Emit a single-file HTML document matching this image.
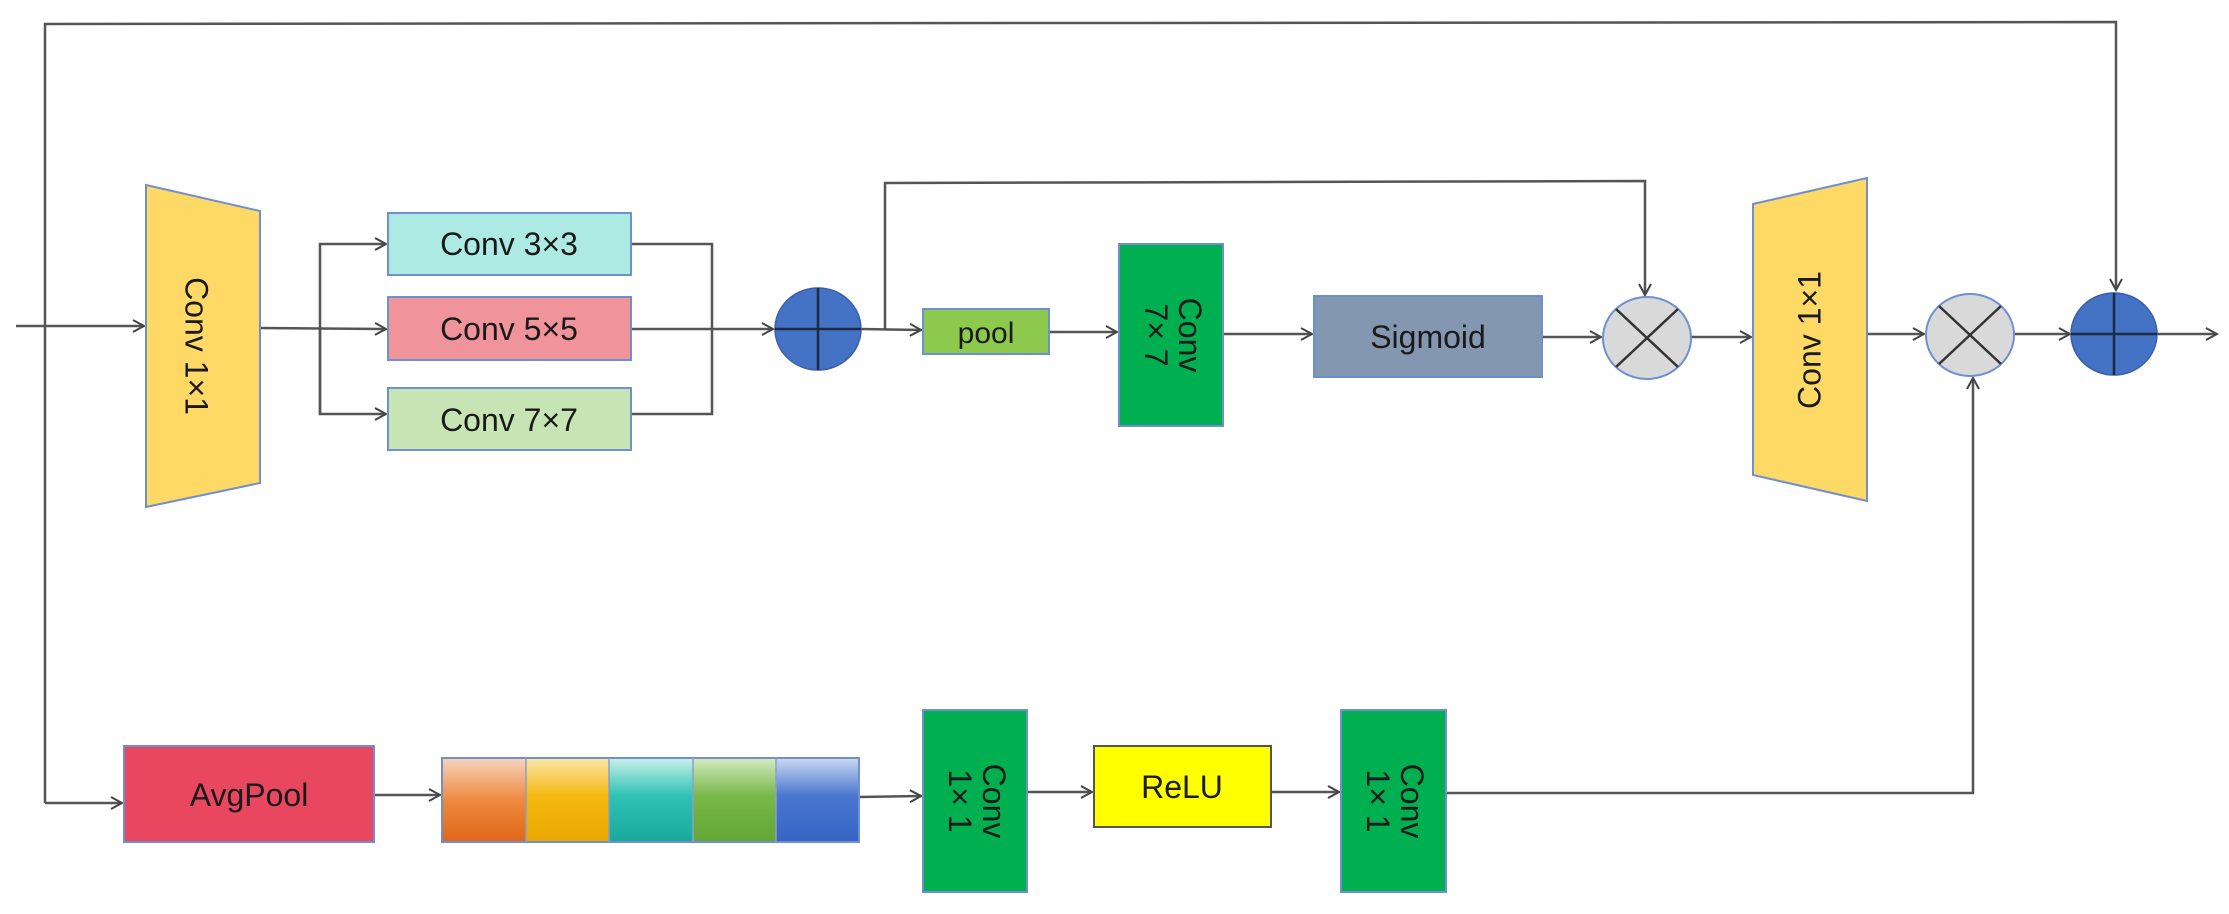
<!DOCTYPE html>
<html><head><meta charset="utf-8"><style>
html,body{margin:0;padding:0;background:#fff;}
svg{display:block;}
text{font-family:"Liberation Sans",Arial,sans-serif;fill:#1a1a1a;}
</style></head><body>
<svg width="2229" height="914" viewBox="0 0 2229 914" xmlns="http://www.w3.org/2000/svg">
<defs>
<marker id="a" markerWidth="14" markerHeight="14" refX="12" refY="7" orient="auto" markerUnits="userSpaceOnUse">
<path d="M1,1 L12,7 L1,13" fill="none" stroke="#444" stroke-width="2"/>
</marker>
<linearGradient id="g1" x1="0" y1="0" x2="0" y2="1"><stop offset="0" stop-color="#f6d3bd"/><stop offset="0.5" stop-color="#ee8a3e"/><stop offset="1" stop-color="#e0661b"/></linearGradient>
<linearGradient id="g2" x1="0" y1="0" x2="0" y2="1"><stop offset="0" stop-color="#fbe6a8"/><stop offset="0.45" stop-color="#f3b812"/><stop offset="1" stop-color="#e9a800"/></linearGradient>
<linearGradient id="g3" x1="0" y1="0" x2="0" y2="1"><stop offset="0" stop-color="#c8f0ea"/><stop offset="0.45" stop-color="#2fc2b4"/><stop offset="1" stop-color="#1aa89c"/></linearGradient>
<linearGradient id="g4" x1="0" y1="0" x2="0" y2="1"><stop offset="0" stop-color="#d4ebc2"/><stop offset="0.45" stop-color="#78b84a"/><stop offset="1" stop-color="#62a634"/></linearGradient>
<linearGradient id="g5" x1="0" y1="0" x2="0" y2="1"><stop offset="0" stop-color="#cbd8f0"/><stop offset="0.45" stop-color="#4a76cf"/><stop offset="1" stop-color="#3564c4"/></linearGradient>
</defs>
<g stroke="#555" stroke-width="2.5" fill="none">
<!-- top skip -->
<polyline points="45,803 45,24 2116,22 2116,290" marker-end="url(#a)"/>
<line x1="45" y1="803" x2="122" y2="803" marker-end="url(#a)"/>
<!-- input -->
<line x1="16" y1="326" x2="144" y2="326" marker-end="url(#a)"/>
<!-- branches -->
<line x1="260" y1="328" x2="386" y2="329" marker-end="url(#a)"/>
<polyline points="320,414 320,244 386,244" marker-end="url(#a)"/>
<polyline points="320,329 320,414 386,414" marker-end="url(#a)"/>
<polyline points="631,244 712,244 712,414 631,414"/>
<line x1="631" y1="329" x2="773" y2="329" marker-end="url(#a)"/>
<!-- after plus -->
<line x1="861" y1="329" x2="921" y2="330" marker-end="url(#a)"/>
<polyline points="885,329 885,183 1645,181 1645,295" marker-end="url(#a)"/>
<line x1="1049" y1="332" x2="1117" y2="332" marker-end="url(#a)"/>
<line x1="1223" y1="334" x2="1312" y2="334" marker-end="url(#a)"/>
<line x1="1542" y1="337" x2="1601" y2="337" marker-end="url(#a)"/>
<line x1="1691" y1="337" x2="1751" y2="337" marker-end="url(#a)"/>
<line x1="1867" y1="334" x2="1924" y2="334" marker-end="url(#a)"/>
<line x1="2014" y1="334" x2="2070" y2="334" marker-end="url(#a)"/>
<line x1="2114" y1="334" x2="2217" y2="334" marker-end="url(#a)"/>
<!-- bottom -->
<line x1="374" y1="795" x2="440" y2="795" marker-end="url(#a)"/>
<line x1="859" y1="797" x2="921" y2="796" marker-end="url(#a)"/>
<line x1="1027" y1="792" x2="1092" y2="792" marker-end="url(#a)"/>
<line x1="1271" y1="792" x2="1339" y2="792" marker-end="url(#a)"/>
<polyline points="1446,793 1973,793 1973,378" marker-end="url(#a)"/>
</g>
<!-- trapezoid 1 -->
<polygon points="146,185 260,211 260,483 146,507" fill="#ffd966" stroke="#6f8fd0" stroke-width="2"/>
<text transform="translate(194,346) rotate(90)" font-size="32" text-anchor="middle" dominant-baseline="middle">Conv 1×1</text>
<!-- conv boxes -->
<rect x="388" y="213" width="243" height="62" fill="#aeeae4" stroke="#6f8fd0" stroke-width="2"/>
<text x="509" y="255" font-size="32" text-anchor="middle">Conv 3×3</text>
<rect x="388" y="297" width="243" height="63" fill="#f1939b" stroke="#6f8fd0" stroke-width="2"/>
<text x="509" y="340" font-size="32" text-anchor="middle">Conv 5×5</text>
<rect x="388" y="388" width="243" height="62" fill="#c7e5b4" stroke="#6f8fd0" stroke-width="2"/>
<text x="509" y="431" font-size="32" text-anchor="middle">Conv 7×7</text>
<!-- plus 1 -->
<ellipse cx="818" cy="329" rx="43" ry="41" fill="#4472c4" stroke="#3a5fa8" stroke-width="1.5"/>
<line x1="818" y1="288" x2="818" y2="370" stroke="#1f2a44" stroke-width="2.5"/>
<line x1="775" y1="329" x2="861" y2="329" stroke="#1f2a44" stroke-width="2.5"/>
<!-- pool -->
<rect x="923" y="309" width="126" height="45" fill="#8cc94c" stroke="#6f8fd0" stroke-width="2"/>
<text x="986" y="343" font-size="30" text-anchor="middle">pool</text>
<!-- conv 7x7 green -->
<rect x="1119" y="244" width="104" height="182" fill="#00b050" stroke="#6f8fd0" stroke-width="2"/>
<text transform="translate(1171,335) rotate(90)" font-size="32" text-anchor="middle"><tspan x="0" y="-8">Conv</tspan><tspan x="0" y="26">7× 7</tspan></text>
<!-- sigmoid -->
<rect x="1314" y="296" width="228" height="81" fill="#8497b0" stroke="#6f8fd0" stroke-width="2"/>
<text x="1428" y="348" font-size="32" text-anchor="middle">Sigmoid</text>
<!-- X circle 1 -->
<ellipse cx="1647" cy="338" rx="44" ry="41" fill="#d9d9d9" stroke="#6f8fd0" stroke-width="2"/>
<line x1="1616" y1="309" x2="1678" y2="367" stroke="#333" stroke-width="2.5"/>
<line x1="1678" y1="309" x2="1616" y2="367" stroke="#333" stroke-width="2.5"/>
<!-- trapezoid 2 -->
<polygon points="1753,204 1867,178 1867,501 1753,475" fill="#ffd966" stroke="#6f8fd0" stroke-width="2"/>
<text transform="translate(1812,340) rotate(-90)" font-size="32" text-anchor="middle" dominant-baseline="middle">Conv 1×1</text>
<!-- X circle 2 -->
<ellipse cx="1970" cy="335" rx="44" ry="41" fill="#d9d9d9" stroke="#6f8fd0" stroke-width="2"/>
<line x1="1939" y1="306" x2="2001" y2="364" stroke="#333" stroke-width="2.5"/>
<line x1="2001" y1="306" x2="1939" y2="364" stroke="#333" stroke-width="2.5"/>
<!-- plus 2 -->
<ellipse cx="2114" cy="334" rx="43" ry="41" fill="#4472c4" stroke="#3a5fa8" stroke-width="1.5"/>
<line x1="2114" y1="293" x2="2114" y2="375" stroke="#1f2a44" stroke-width="2.5"/>
<line x1="2071" y1="334" x2="2157" y2="334" stroke="#1f2a44" stroke-width="2.5"/>
<!-- AvgPool -->
<rect x="124" y="746" width="250" height="96" fill="#e8475f" stroke="#6f8fd0" stroke-width="2"/>
<text x="249" y="806" font-size="32" text-anchor="middle">AvgPool</text>
<!-- color bar -->
<rect x="442" y="758" width="84" height="84" fill="url(#g1)"/>
<rect x="526" y="758" width="83" height="84" fill="url(#g2)"/>
<rect x="609" y="758" width="84" height="84" fill="url(#g3)"/>
<rect x="693" y="758" width="83" height="84" fill="url(#g4)"/>
<rect x="776" y="758" width="83" height="84" fill="url(#g5)"/>
<rect x="442" y="758" width="417" height="84" fill="none" stroke="#6f8fd0" stroke-width="2"/>
<g stroke="#8aa0c8" stroke-width="1.5"><line x1="526" y1="758" x2="526" y2="842"/><line x1="609" y1="758" x2="609" y2="842"/><line x1="693" y1="758" x2="693" y2="842"/><line x1="776" y1="758" x2="776" y2="842"/></g>
<!-- conv green bottom 1 -->
<rect x="923" y="710" width="104" height="182" fill="#00b050" stroke="#6f8fd0" stroke-width="2"/>
<text transform="translate(975,801) rotate(90)" font-size="32" text-anchor="middle"><tspan x="0" y="-8">Conv</tspan><tspan x="0" y="26">1× 1</tspan></text>
<!-- ReLU -->
<rect x="1094" y="746" width="177" height="81" fill="#ffff00" stroke="#555" stroke-width="2"/>
<text x="1182" y="798" font-size="32" text-anchor="middle">ReLU</text>
<!-- conv green bottom 2 -->
<rect x="1341" y="710" width="105" height="182" fill="#00b050" stroke="#6f8fd0" stroke-width="2"/>
<text transform="translate(1393,801) rotate(90)" font-size="32" text-anchor="middle"><tspan x="0" y="-8">Conv</tspan><tspan x="0" y="26">1× 1</tspan></text>
</svg>
</body></html>
